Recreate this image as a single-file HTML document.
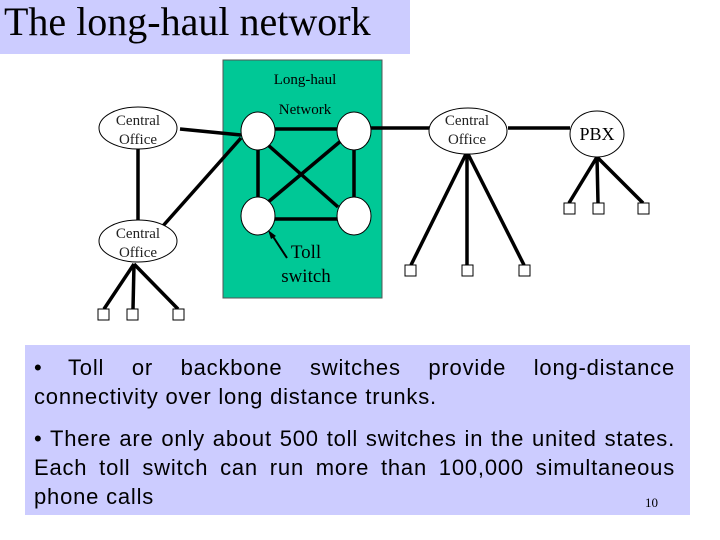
<!DOCTYPE html>
<html><head><style>
body{margin:0;width:720px;height:540px;background:#fff;position:relative;overflow:hidden;font-family:"Liberation Serif",serif}
.title{position:absolute;left:0;top:0;width:410px;height:54px;background:#ccccff;font-size:40px;line-height:44px;padding-left:4px;box-sizing:border-box}
.tb{position:absolute;left:25px;top:345px;width:665px;height:170px;background:#ccccff;font-family:"Liberation Sans",sans-serif;font-size:22px;letter-spacing:0.8px;box-sizing:border-box}
.l{position:absolute;left:9px;width:641px;white-space:nowrap;line-height:24px}
.j{text-align:justify;text-align-last:justify}
</style></head><body>
<div class="title">The long-haul network</div>
<svg width="720" height="340" style="position:absolute;left:0;top:0" font-family="Liberation Serif, serif">
<rect x="223" y="60" width="159" height="238" fill="#00c896" stroke="#555" stroke-width="1"/>
<text x="305" y="84" font-size="15" text-anchor="middle">Long-haul</text>
<text x="305" y="114" font-size="15" text-anchor="middle">Network</text>
<g stroke="#000" stroke-width="3.5" fill="none">
<line x1="180" y1="129" x2="241" y2="135"/>
<line x1="162" y1="227" x2="241" y2="138"/>
<line x1="138" y1="148" x2="138" y2="220"/>
<line x1="275" y1="129" x2="337" y2="129"/>
<line x1="371" y1="128" x2="430" y2="128"/>
<line x1="258" y1="150" x2="258" y2="197"/>
<line x1="354" y1="150" x2="354" y2="197"/>
<line x1="275" y1="219" x2="337" y2="219"/>
<line x1="268" y1="145" x2="338" y2="207"/>
<line x1="267" y1="203" x2="342" y2="140"/>
<line x1="508" y1="128" x2="570" y2="128"/>
<line x1="134" y1="264" x2="104" y2="309"/>
<line x1="134" y1="264" x2="133" y2="309"/>
<line x1="134" y1="264" x2="178" y2="309"/>
<line x1="467" y1="152" x2="411" y2="265"/>
<line x1="467" y1="152" x2="467" y2="265"/>
<line x1="467" y1="152" x2="524" y2="265"/>
<line x1="597" y1="157" x2="569" y2="203"/>
<line x1="597" y1="157" x2="598" y2="203"/>
<line x1="597" y1="157" x2="643" y2="203"/>
</g>
<line x1="287" y1="258" x2="272" y2="235" stroke="#000" stroke-width="2"/>
<polygon points="268,230 276,236 271,239" fill="#000"/>
<g fill="#fff" stroke="#000" stroke-width="1">
<ellipse cx="258" cy="131" rx="17" ry="19"/>
<ellipse cx="354" cy="131" rx="17" ry="19"/>
<ellipse cx="258" cy="216" rx="17" ry="19"/>
<ellipse cx="354" cy="216" rx="17" ry="19"/>
<ellipse cx="138" cy="128" rx="39" ry="21"/>
<ellipse cx="138" cy="241" rx="39" ry="21"/>
<ellipse cx="468" cy="131" rx="39" ry="23"/>
<ellipse cx="597" cy="134" rx="27" ry="23"/>
<rect x="98" y="309" width="11" height="11"/><rect x="127" y="309" width="11" height="11"/><rect x="173" y="309" width="11" height="11"/>
<rect x="405" y="265" width="11" height="11"/><rect x="462" y="265" width="11" height="11"/><rect x="519" y="265" width="11" height="11"/>
<rect x="564" y="203" width="11" height="11"/><rect x="593" y="203" width="11" height="11"/><rect x="638" y="203" width="11" height="11"/>
</g>
<g font-size="15" text-anchor="middle" fill="#222">
<text x="138" y="125">Central</text><text x="138" y="144">Office</text>
<text x="138" y="238">Central</text><text x="138" y="257">Office</text>
<text x="467" y="125">Central</text><text x="467" y="144">Office</text>
</g>
<text x="597" y="140" font-size="18" text-anchor="middle">PBX</text>
<text x="306" y="258" font-size="19" text-anchor="middle">Toll</text>
<text x="306" y="282" font-size="19" text-anchor="middle">switch</text>
</svg>
<div class="tb">
<div class="l" style="top:11px;width:20px">•</div>
<div class="l j" style="top:11px;left:43px;width:607px">Toll or backbone switches provide long-distance</div>
<div class="l" style="top:40px">connectivity over long distance trunks.</div>
<div class="l j" style="top:82px">• There are only about 500 toll switches in the united states.</div>
<div class="l j" style="top:111px">Each toll switch can run more than 100,000 simultaneous</div>
<div class="l" style="top:140px">phone calls</div>
<div style="position:absolute;left:620px;top:150px;font-family:'Liberation Serif',serif;font-size:13px;letter-spacing:0">10</div>
</div>
</body></html>
